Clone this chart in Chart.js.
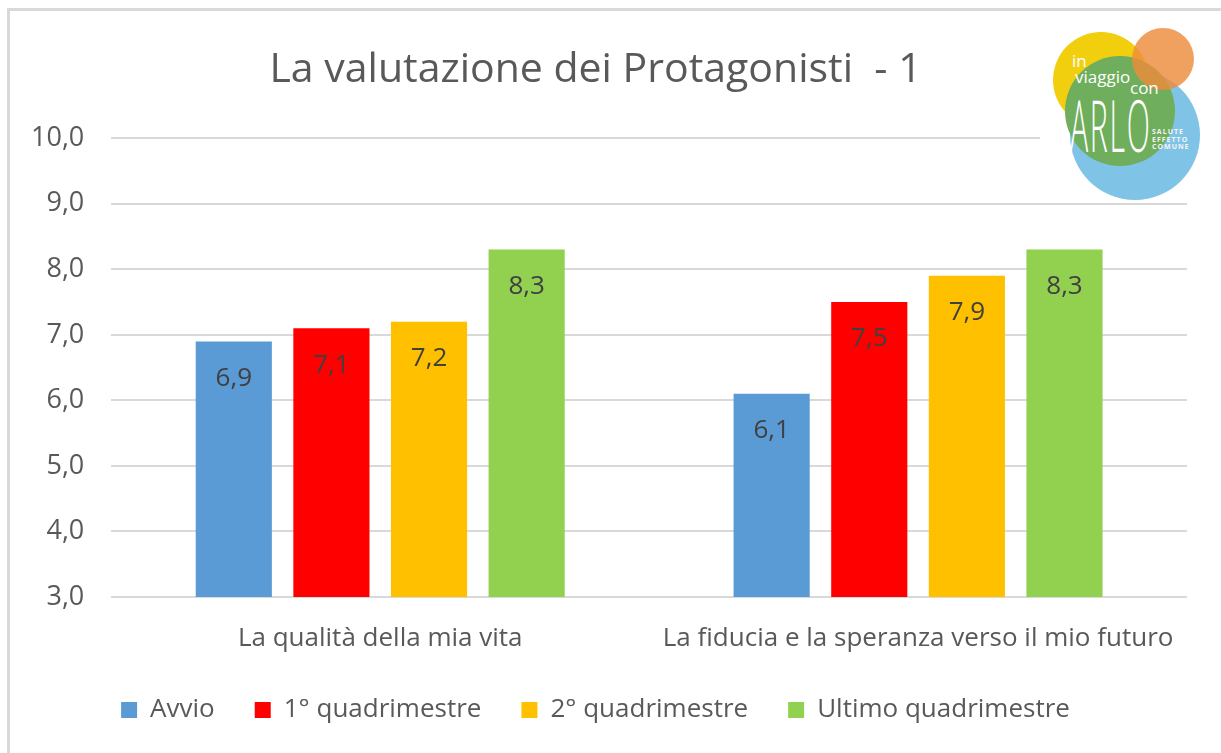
<!DOCTYPE html>
<html>
<head>
<meta charset="utf-8">
<script src="https://cdn.jsdelivr.net/npm/chart.js@4.4.1/dist/chart.umd.min.js"></script>
<style>
  html, body { margin: 0; padding: 0; background: #fff; }
  #wrap { position: relative; width: 1221px; height: 753px; overflow: hidden; }
  #frame { position: absolute; left: 7px; top: 8px; width: 1300px; height: 800px;
           border-left: 3px solid #d9d9d9; border-top: 3px solid #d9d9d9; }
  canvas { position: absolute; left: 0; top: 0; }
  /* logo in alto a destra */
  #logo { position: absolute; left: 1040px; top: 22px; width: 175px; height: 180px; background: #fff; overflow: hidden; }
  .c { position: absolute; border-radius: 50%; }
  .t { position: absolute; color: #fff; font-family: "Open Sans", sans-serif; line-height: 1; }
</style>
</head>
<body>
<div id="wrap">
  <div id="frame"></div>
  <canvas id="chart" width="1221" height="800"></canvas>
  <div id="logo">
    <div class="c" style="left:13px;top:10px;width:96px;height:96px;background:#f1cf0f;"></div>
    <div class="c" style="left:30px;top:48px;width:130px;height:130px;background:#7fc3e6;"></div>
    <div class="c" style="left:25px;top:34px;width:110px;height:110px;background:#6fae5c;"></div>
    <div class="c" style="left:92px;top:6px;width:62px;height:62px;background:rgba(238,140,60,0.82);"></div>
    <div class="t" style="left:32px;top:30px;font-size:17px;">in</div>
    <div class="t" style="left:35px;top:46px;font-size:17px;">viaggio</div>
    <div class="t" style="left:90px;top:57px;font-size:17px;">con</div>
    <div class="t" style="left:30px;top:66px;font-size:72px;font-weight:100;transform:scaleX(0.42);transform-origin:left top;letter-spacing:4px;">ARLO</div>
    <div class="t" style="left:112px;top:106px;font-size:7px;font-weight:700;letter-spacing:1px;line-height:1.1;color:#f4f4f4;">SALUTE<br>EFFETTO<br>COMUNE</div>
  </div>
</div>
<script>
// categorie e serie
const categories = ['La qualità della mia vita', 'La fiducia e la speranza verso il mio futuro'];
const seriesNames = ['Avvio', '1° quadrimestre', '2° quadrimestre', 'Ultimo quadrimestre'];
const avvio = [6.9, 6.1];
const primoQuad = [7.1, 7.5];
const secondoQuad = [7.2, 7.9];
const ultimoQuad = [8.3, 8.3];
const yTicks = [3, 4, 5, 6, 7, 8, 9, 10];
const colors = ['#5b9bd5', '#ff0000', '#ffc000', '#92d050'];

const FONT = '"Open Sans", sans-serif';
const fmt = v => v.toFixed(1).replace('.', ',');

// etichette dei valori dentro le barre
const valueLabels = {
  id: 'valueLabels',
  afterDatasetsDraw(chart) {
    const ctx = chart.ctx;
    ctx.save();
    ctx.font = '26px ' + FONT;
    ctx.fillStyle = '#404040';
    ctx.textAlign = 'center';
    ctx.textBaseline = 'middle';
    chart.data.datasets.forEach((ds, i) => {
      chart.getDatasetMeta(i).data.forEach((bar, j) => {
        ctx.fillText(fmt(ds.data[j]), bar.x, bar.y + 37);
      });
    });
    ctx.restore();
  }
};

const seriesData = [avvio, primoQuad, secondoQuad, ultimoQuad];

new Chart(document.getElementById('chart').getContext('2d'), {
  type: 'bar',
  data: {
    labels: categories,
    datasets: seriesNames.map((name, i) => ({
      label: name,
      data: seriesData[i],
      backgroundColor: colors[i],
      barPercentage: 0.78,
      categoryPercentage: 0.726
    }))
  },
  options: {
    responsive: false,
    animation: false,
    layout: { padding: { left: 4, right: 34, top: 0, bottom: 67 } },
    plugins: {
      title: {
        display: true,
        text: 'La valutazione dei Protagonisti  - 1',
        color: '#595959',
        font: { family: FONT, size: 41, weight: 'normal' },
        padding: { top: 46, bottom: 43 }
      },
      legend: {
        position: 'bottom',
        labels: {
          color: '#595959',
          font: { family: FONT, size: 26 },
          boxWidth: 16,
          boxHeight: 16,
          padding: 40
        }
      },
      tooltip: { enabled: false }
    },
    scales: {
      x: {
        grid: { display: false },
        border: { display: false },
        ticks: { color: '#595959', font: { family: FONT, size: 26 }, padding: 18 },
        afterFit: axis => { axis.height = 60; }
      },
      y: {
        min: 3,
        max: 10,
        afterBuildTicks: axis => { axis.ticks = yTicks.map(v => ({ value: v })); },
        grid: { color: '#d9d9d9', lineWidth: 2, drawTicks: false },
        border: { display: false },
        ticks: { color: '#595959', font: { family: FONT, size: 27 }, padding: 27, callback: v => fmt(v) }
      }
    }
  },
  plugins: [valueLabels]
});
</script>
</body>
</html>
